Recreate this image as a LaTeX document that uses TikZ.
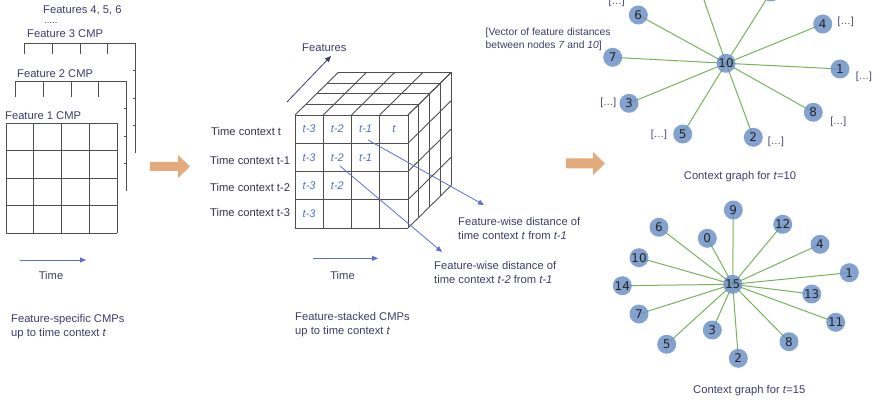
\documentclass[tikz,border=0pt]{standalone}
\usepackage{fontspec}
\setmainfont{Liberation Sans}
\newfontfamily\numfont{DejaVu Sans}
\usetikzlibrary{arrows.meta,backgrounds}
\definecolor{txt}{HTML}{3D3D6B}
\definecolor{dark}{HTML}{35354A}
\definecolor{gridc}{HTML}{4F4F4F}
\definecolor{cellblue}{HTML}{4A72C4}
\definecolor{arrblue}{HTML}{5B6FD6}
\definecolor{orangearr}{HTML}{E3AA7C}
\definecolor{nodec}{HTML}{6F92C7}
\definecolor{edgec}{HTML}{77B35C}
\tikzset{
  lbl/.style={font=\fontsize{11.2}{13.5}\selectfont, text=txt, inner sep=0pt, align=left},
  tclbl/.style={font=\fontsize{11.2}{13.5}\selectfont, text=dark, inner sep=0pt, anchor=west},
  small/.style={font=\fontsize{10.3}{12.4}\selectfont, text=txt, inner sep=0pt, align=left},
  dots/.style={font=\fontsize{9.5}{11}\selectfont, text=txt, inner sep=0pt},
  gridln/.style={draw=gridc, line width=0.9pt},
  celltxt/.style={font=\fontsize{11}{13}\selectfont\itshape, text=cellblue, inner sep=0pt},
  bluearrow/.style={draw=arrblue, line width=0.8pt, -{Triangle[length=6pt,width=5pt]}},
  navyarrow/.style={draw=txt, line width=0.8pt, -{Triangle[length=6pt,width=5pt]}},
  gnode/.style={circle, fill=nodec, fill opacity=0.85, text opacity=1, minimum size=19pt, inner sep=0pt, font=\numfont\fontsize{12}{12}\selectfont, text=black!85},
  gedge/.style={draw=edgec, line width=1pt},
}
\begin{document}
\begin{tikzpicture}[x=1pt,y=-1pt]
\path[use as bounding box] (0,0) rectangle (881,401);
\clip (0,0) rectangle (881,401);
\begin{pgfonlayer}{background}
\fill[white] (0,0) rectangle (881,401);
\end{pgfonlayer}

% ---------------- Left: feature-specific CMPs ----------------
\node[lbl, anchor=west] (f456) at (43,10) {Features 4, 5, 6};
\node[dots, anchor=west] (fdots) at (44,23) {.....};
\node[lbl, anchor=west] (f3) at (27,34) {Feature 3 CMP};
\node[lbl, anchor=west] (f2) at (17,74) {Feature 2 CMP};
\node[lbl, anchor=west] (f1) at (5,116) {Feature 1 CMP};

% Feature 3 frame
\draw[gridln] (24,43) -- (135,43) -- (135,153);
\foreach \x in {24,52,80,107} \draw[gridln] (\x,43) -- (\x,54);
\foreach \y in {70.5,98,125.5} \draw[gridln] (132.5,\y) -- (135,\y);
% Feature 2 frame
\draw[gridln] (15,81) -- (126,81) -- (126,191);
\foreach \x in {15,43,71,98} \draw[gridln] (\x,81) -- (\x,97);
\foreach \y in {108.5,136,163.5} \draw[gridln] (123.5,\y) -- (126,\y);
% Feature 1 grid
\fill[white] (6,123) rectangle (117,233);
\foreach \k in {0,...,4} {
  \draw[gridln] ({6+\k*27.75},123) -- ({6+\k*27.75},233);
  \draw[gridln] (6,{123+\k*27.5}) -- (117,{123+\k*27.5});
}

\coordinate (lt1) at (20,260);
\coordinate (lt2) at (86,260);
\draw[bluearrow] (lt1) -- (lt2);
\node[lbl] (ltime) at (51,275) {Time};
\node[lbl, anchor=west] (lcap) at (11,326.5) {Feature-specific CMPs\\up to time context \textit{t}};

% big arrow 1
\fill[orangearr] (150,162) -- (178,162) -- (178,155) -- (190,166.5) -- (178,178) -- (178,171) -- (150,171) -- cycle;

% ---------------- Middle: cube ----------------
\def\cx{295}\def\cy{115}\def\cs{28.25}\def\dx{10.83}\def\dy{10.67}
\fill[white] (\cx,\cy) -- ({\cx+4*\dx},{\cy-4*\dy}) -- ({\cx+4*\cs+4*\dx},{\cy-4*\dy}) -- ({\cx+4*\cs+4*\dx},{\cy+4*\cs-4*\dy}) -- ({\cx+4*\cs},{\cy+4*\cs}) -- (\cx,{\cy+4*\cs}) -- cycle;
\foreach \k in {0,...,4} {
  \draw[gridln] ({\cx+\k*\dx},{\cy-\k*\dy}) -- ({\cx+4*\cs+\k*\dx},{\cy-\k*\dy});
  \draw[gridln] ({\cx+\k*\cs},\cy) -- ({\cx+\k*\cs+4*\dx},{\cy-4*\dy});
  \draw[gridln] ({\cx+4*\cs+\k*\dx},{\cy-\k*\dy}) -- ({\cx+4*\cs+\k*\dx},{\cy+4*\cs-\k*\dy});
  \draw[gridln] ({\cx+4*\cs},{\cy+\k*\cs}) -- ({\cx+4*\cs+4*\dx},{\cy+\k*\cs-4*\dy});
  \draw[gridln] ({\cx+\k*\cs},\cy) -- ({\cx+\k*\cs},{\cy+4*\cs});
  \draw[gridln] (\cx,{\cy+\k*\cs}) -- ({\cx+4*\cs},{\cy+\k*\cs});
}
\foreach \i/\j/\t in {0/0/t-3,0/1/t-2,0/2/t-1,0/3/t,1/0/t-3,1/1/t-2,1/2/t-1,2/0/t-3,2/1/t-2,3/0/t-3}
  \node[celltxt] (c\i\j) at ({\cx+(\j+0.5)*\cs},{\cy+(\i+0.5)*\cs}) {\t};

\node[tclbl] (tc0) at (211,131.5) {Time context t};
\node[tclbl] (tc1) at (210,160) {Time context t-1};
\node[tclbl] (tc2) at (210,187) {Time context t-2};
\node[tclbl] (tc3) at (210,212.5) {Time context t-3};

\node[lbl, anchor=west] (feat) at (302,47.5) {Features};
\coordinate (fa1) at (287,102);
\coordinate (fa2) at (331,56);
\draw[navyarrow] (fa1) -- (fa2);

\coordinate (mt1) at (313,258.3);
\coordinate (mt2) at (378,258.3);
\draw[bluearrow] (mt1) -- (mt2);
\node[lbl] (mtime) at (342.5,275) {Time};
\node[lbl, anchor=west] (mcap) at (295,324.5) {Feature-stacked CMPs\\up to time context \textit{t}};

% distance arrows
\node[lbl, anchor=west] (d1) at (458,228.3) {Feature-wise distance of\\time context \textit{t} from \textit{t-1}};
\node[lbl, anchor=west] (d2) at (434,272.6) {Feature-wise distance of\\time context \textit{t-2} from \textit{t-1}};
\coordinate (d1s) at (368,140);
\coordinate (d1e) at (484,205);
\coordinate (d2s) at (340,166);
\coordinate (d2e) at (442,252);
\draw[bluearrow] (d1s) -- (d1e);
\draw[bluearrow] (d2s) -- (d2e);

% big arrow 2
\fill[orangearr] (566,158.5) -- (593,158.5) -- (593,152) -- (605,163.5) -- (593,175) -- (593,168.5) -- (566,168.5) -- cycle;

% ---------------- Right top: context graph t=10 ----------------
\node[small, anchor=west] (vec) at (485.5,39.5) {[Vector of feature distances\\between nodes \textit{7} and \textit{10}]};

\node[gnode] (a10) at (726,63.3) {10};
\foreach \n/\x/\y in {6/638.3/15, 7/612.7/57.3, 3/629/103.3, 5/682.7/134, 2/753.3/137.3, 8/813.3/112.3, 1/840/69, 4/822.7/24}
  \node[gnode] (a\n) at (\x,\y) {\n};
\node[gnode] (aup1) at (697,-20) {};
\node[gnode] (aup2) at (771,-8) {};
\begin{pgfonlayer}{background}
\foreach \n in {6,7,3,5,2,8,1,4,up1,up2}
  \draw[gedge] (a10.center) -- (a\n.center);
\end{pgfonlayer}

\foreach \x/\y [count=\i] in {616.7/2, 845.7/21.7, 864/77.3, 838.3/121.7, 776/141.7, 659/135, 608.3/103.3}
  \node[small] (br\i) at (\x,\y) {[…]};

\node[lbl] (cap10) at (740,176.7) {Context graph for \textit{t}=10};

% ---------------- Right bottom: context graph t=15 ----------------
\node[gnode] (b15) at (732.7,284.3) {15};
\foreach \n/\x/\y in {9/733.3/210, 12/782.7/224.3, 4/820/244.3, 1/849.3/272.7, 13/811.7/294, 11/835.7/322.3, 8/789/341.7, 2/738.3/358.3, 3/712.3/330, 5/666.7/344.3, 7/639/314, 14/622.3/285.7, 10/639/257.7, 6/659/227.3, 0/707.3/238.3}
  \node[gnode] (b\n) at (\x,\y) {\n};
\begin{pgfonlayer}{background}
\foreach \n in {9,12,4,1,13,11,8,2,3,5,7,14,10,6,0}
  \draw[gedge] (b15.center) -- (b\n.center);
\end{pgfonlayer}

\node[lbl] (cap15) at (749.3,390.7) {Context graph for \textit{t}=15};
\end{tikzpicture}
\end{document}
